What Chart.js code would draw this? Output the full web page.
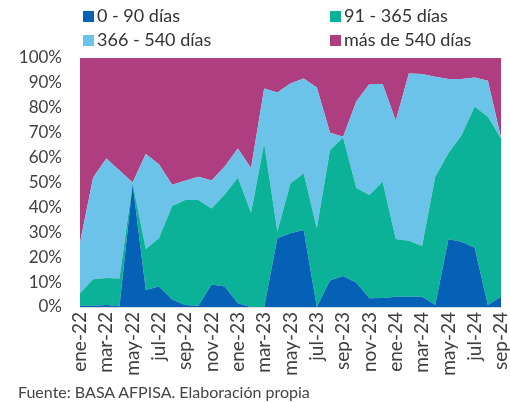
<!DOCTYPE html>
<html>
<head>
<meta charset="utf-8">
<script src="https://cdn.jsdelivr.net/npm/chart.js@4"></script>
<style>
  html, body { margin: 0; padding: 0; background: #fff; }
  body { width: 510px; height: 402px; position: relative; overflow: hidden; font-family: Lato, sans-serif; }
  #wrap { position: absolute; left: 0; top: 0; width: 510px; height: 402px; }
  .leg { position: absolute; font-size: 18px; color: #333; line-height: 20px; white-space: nowrap; }
  .leg span.box { display: inline-block; width: 11px; height: 11px; margin-right: 3px; vertical-align: 0px; }
  #src { position: absolute; left: 18px; top: 382px; font-size: 16px; color: #444; }
</style>
</head>
<body>
<div id="wrap"><canvas id="chart" width="510" height="402"></canvas></div>
<div id="legend"></div>
<div id="src">Fuente: BASA AFPISA. Elaboración propia</div>
<script>
// meses ene-22 .. sep-24
const months = ['ene','feb','mar','abr','may','jun','jul','ago','sep','oct','nov','dic']
const labels = []
for (let y = 22; y <= 24; y++) {
    for (let m = 0; m < 12; m++) {
        if (y === 24 && m > 8) break
        labels.push(months[m] + '-' + y)
    }
}

const seriesNames = ['0 - 90 días', '91 - 365 días', '366 - 540 días', 'más de 540 días']
const colors = ['#0561B6', '#0BB297', '#6BC3E9', '#AE3E7F']

// % del total
const d0_90 = [0.5, 0.5, 0.8, 0.3, 49.5, 6.8, 8.2, 3.0, 0.8, 0.5, 9.0, 8.2, 1.5, 0, 0, 27.6, 29.6,
    30.9, 0, 10.6, 12.5, 9.7, 3.5, 3.6, 4.1, 4.1, 4.1, 0.8, 27.2, 26.2, 23.8, 0.8, 4.1]
const d91_365 = [5.0, 10.6, 10.8, 11.1, 0.3, 16.5, 19.4, 37.6, 42.2, 42.5, 30.6, 37.0, 50.5, 37.9, 65.7, 2.7, 20.1,
    22.8, 31.6, 52.4, 55.6, 38.1, 41.5, 46.7, 23.2, 22.5, 20.4, 51.5, 34.5, 42.8, 56.7, 75.6, 63.6]
const d366_540 = [20.3, 40.9, 48.0, 43.4, 0.2, 38.1, 29.7, 8.5, 7.7, 9.3, 11.2, 11.2, 11.7, 17.8, 22.1, 55.8, 40.1,
    38.1, 56.6, 7.0, 0.3, 34.7, 44.6, 39.3, 47.5, 67.2, 69.1, 40.2, 29.9, 22.6, 11.7, 14.5, 0.3]
const dMas540 = [74.2, 48.0, 40.4, 45.2, 50.0, 38.6, 42.7, 50.9, 49.3, 47.7, 49.2, 43.6, 36.3, 44.3, 12.2, 13.9, 10.2,
    8.2, 11.8, 30.0, 31.6, 17.5, 10.4, 10.4, 25.2, 6.2, 6.4, 7.5, 8.4, 8.4, 7.8, 9.1, 32.0]

const yTicks = [0, 10, 20, 30, 40, 50, 60, 70, 80, 90, 100]

const values = [d0_90, d91_365, d366_540, dMas540]

// leyenda html en dos columnas
const legendPos = [[83, 5], [330, 5], [83, 29], [330, 29]]
const legendEl = document.getElementById('legend')
seriesNames.forEach((name, i) => {
    const div = document.createElement('div')
    div.className = 'leg'
    div.style.left = legendPos[i][0] + 'px'
    div.style.top = legendPos[i][1] + 'px'
    div.innerHTML = '<span class="box" style="background:' + colors[i] + '"></span>' + name
    legendEl.appendChild(div)
})

Chart.defaults.font.family = 'Lato, sans-serif'
Chart.defaults.color = '#404040'

new Chart(document.getElementById('chart'), {
    type: 'line',
    data: {
        labels: labels,
        datasets: values.map((v, i) => ({
            label: seriesNames[i],
            data: v,
            backgroundColor: colors[i],
            borderColor: colors[i],
            borderWidth: 0,
            pointRadius: 0,
            tension: 0,
            fill: i === 0 ? 'origin' : '-1',
        })),
    },
    options: {
        responsive: false,
        animation: false,
        layout: { padding: { top: 58, right: 9, bottom: 20, left: 0 } },
        plugins: { legend: { display: false }, tooltip: { enabled: false } },
        scales: {
            x: {
                grid: { display: false, drawTicks: false },
                border: { display: true, color: '#d9d9d9' },
                afterFit: s => {
                    s.height = 75
                    s.paddingLeft = 0
                    s.paddingRight = 0
                },
                ticks: {
                    autoSkip: false,
                    minRotation: 90,
                    maxRotation: 90,
                    padding: 5,
                    font: { size: 19 },
                    callback: (v, i) => i % 2 === 0 ? labels[i] : '',
                },
            },
            y: {
                stacked: true,
                min: 0,
                max: 100,
                grid: { display: false, drawTicks: false },
                border: { display: false },
                afterFit: s => { s.width = 80 },
                afterBuildTicks: s => { s.ticks = yTicks.map(v => ({ value: v })) },
                ticks: {
                    padding: 18,
                    font: { size: 17 },
                    callback: v => v + '%',
                },
            },
        },
    },
})
</script>
</body>
</html>
